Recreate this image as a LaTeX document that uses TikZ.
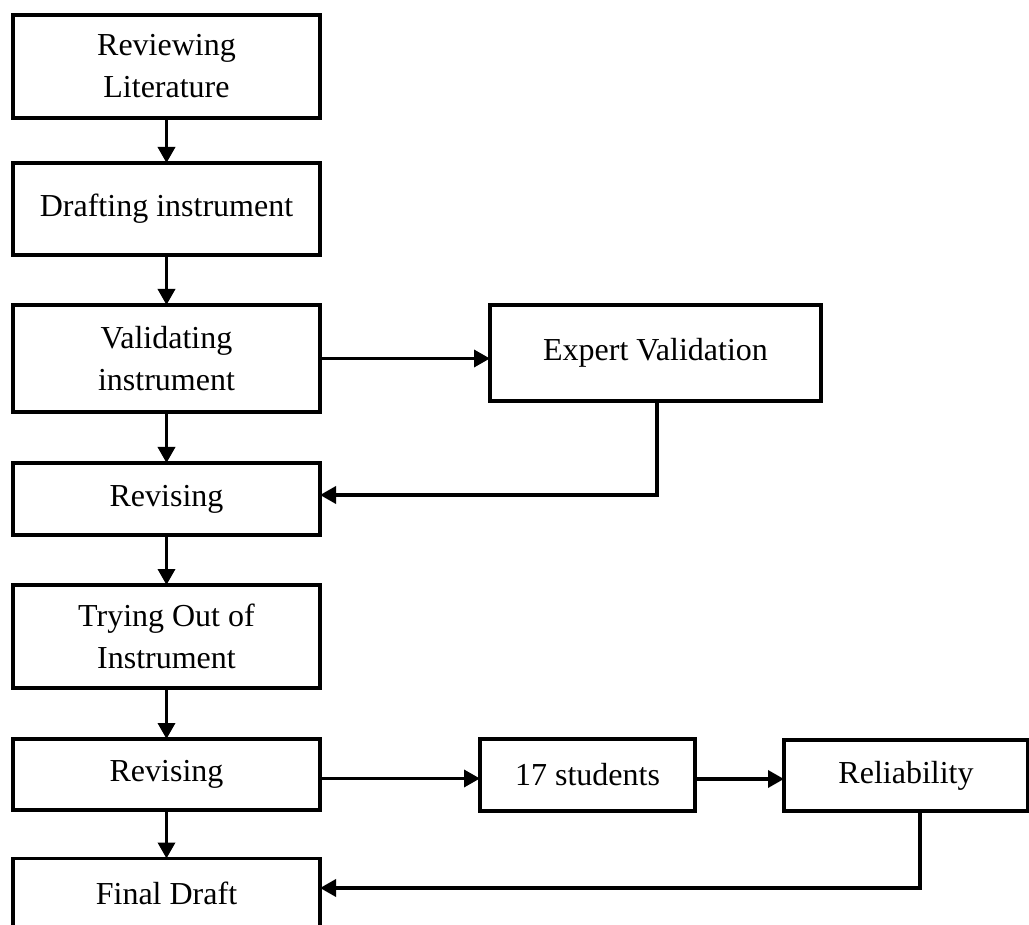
\documentclass[tikz,border=0pt]{standalone}
\usepackage{fontspec}
\setmainfont{Liberation Serif}
\usetikzlibrary{arrows.meta}
\begin{document}
\begin{tikzpicture}[x=1pt,y=-1pt,
  box/.style={draw, line width=3.5pt, inner sep=0pt, outer sep=0pt, align=center,
    font=\fontsize{32}{42}\selectfont},
  conn/.style={line width=3.5pt, -{Triangle[length=16pt,width=17pt]}}]
\useasboundingbox (0,0) rectangle (1029,925);
% left column
\node[box, minimum width=307pt, minimum height=103pt] (b1) at (166.5,66.5) {Reviewing\\Literature};
\node[box, minimum width=307pt, minimum height=92pt] (b2) at (166.5,209) {Drafting instrument};
\node[box, minimum width=307pt, minimum height=107pt] (b3) at (166.5,358.5) {Validating\\instrument};
\node[box, minimum width=307pt, minimum height=72pt] (b4) at (166.5,499) {Revising};
\node[box, minimum width=307pt, minimum height=103pt] (b5) at (166.5,636.5) {Trying Out of\\Instrument};
\node[box, minimum width=307pt, minimum height=71pt] (b6) at (166.5,774.5) {Revising};
\node[box, minimum width=307pt, minimum height=70pt] (b7) at (166.5,893.5) {Final Draft};
% right side
\node[box, minimum width=331pt, minimum height=96pt] (ex) at (655.5,353) {Expert Validation};
\node[box, minimum width=215pt, minimum height=72pt] (s17) at (587.5,775) {17 students};
\node[box, minimum width=244pt, minimum height=71pt] (rel) at (906,775.5) {Reliability};
% vertical flow
\draw[conn] (b1) -- (b2);
\draw[conn] (b2) -- (b3);
\draw[conn] (b3) -- (b4);
\draw[conn] (b4) -- (b5);
\draw[conn] (b5) -- (b6);
\draw[conn] (b6) -- (b7);
% side loops
\draw[conn] (b3.east) -- (b3.east -| ex.west);
\coordinate (exout) at ([xshift=1.5pt]ex.south);
\coordinate (k1) at (exout |- 0,495);
\draw[conn] (exout) -- (k1) -- (k1 -| b4.east);
\draw[conn] ([yshift=-4pt]b6.east) -- ([yshift=-4pt]b6.east -| s17.west);
\draw[conn] ([yshift=-4pt]s17.east) -- ([yshift=-4pt]s17.east -| rel.west);
\coordinate (relout) at ([xshift=14pt]rel.south);
\coordinate (k2) at (relout |- 0,888);
\draw[conn] (relout) -- (k2) -- (k2 -| b7.east);
\end{tikzpicture}
\end{document}
